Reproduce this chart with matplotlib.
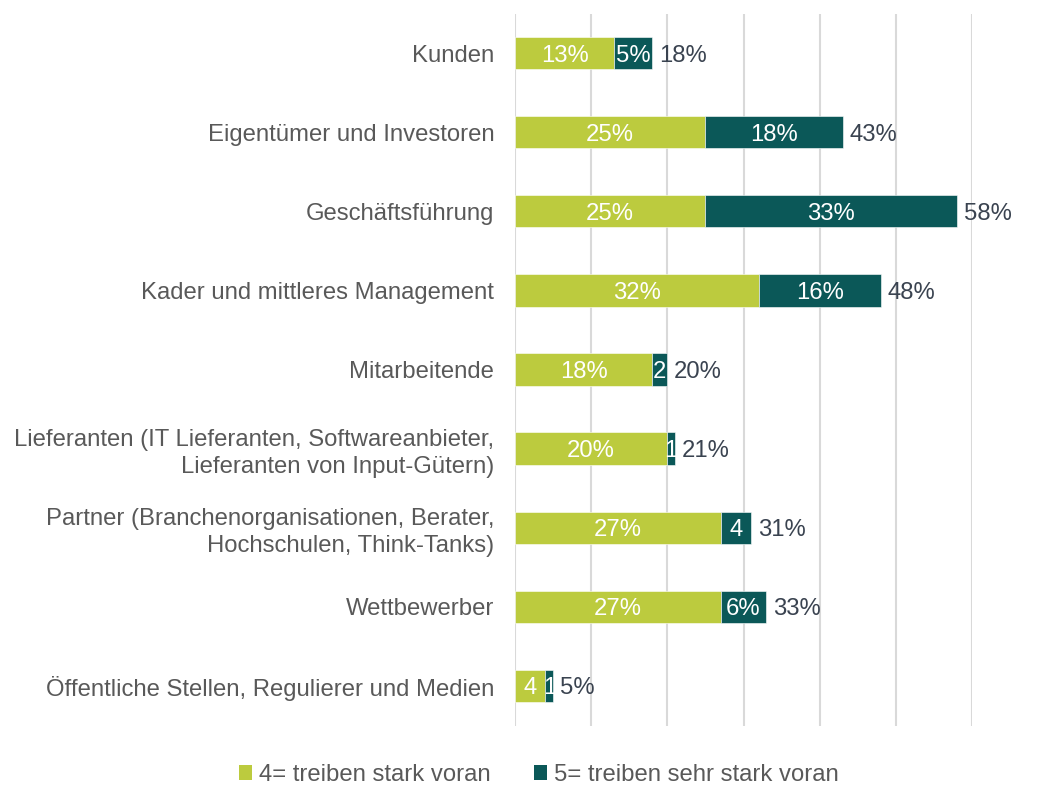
import matplotlib
matplotlib.use("Agg")
import matplotlib.pyplot as plt
from matplotlib.patches import Patch

plt.rcParams['font.family'] = ['Liberation Sans', 'DejaVu Sans']

categories = [
    "Kunden",
    "Eigentümer und Investoren",
    "Geschäftsführung",
    "Kader und mittleres Management",
    "Mitarbeitende",
    "Lieferanten (IT Lieferanten, Softwareanbieter,\nLieferanten von Input-Gütern)",
    "Partner (Branchenorganisationen, Berater,\nHochschulen, Think-Tanks)",
    "Wettbewerber",
    "Öffentliche Stellen, Regulierer und Medien",
]
stark = [13, 25, 25, 32, 18, 20, 27, 27, 4]
sehr_stark = [5, 18, 33, 16, 2, 1, 4, 6, 1]
series_names = ["4= treiben stark voran", "5= treiben sehr stark voran"]

c_light = "#BCCB3E"
c_dark = "#0B5858"
c_cat = "#595959"
c_total = "#3A4350"
fs = 17.2

fig = plt.figure(figsize=(10.38, 7.87), dpi=100)
ax = fig.add_axes([515/1038, 1-725.5/787, (972-515)/1038, (725.5-13.5)/787])

y = list(range(len(categories)))
h = 0.41
ax.barh(y, stark, height=h, color=c_light, edgecolor="white", linewidth=0.4, zorder=3)
ax.barh(y, sehr_stark, left=stark, height=h, color=c_dark, edgecolor="white", linewidth=0.4, zorder=3)

def seg_label(v):
    return f"{v}%" if v >= 5 else f"{v}"

for i, (a, b) in enumerate(zip(stark, sehr_stark)):
    ax.text(a/2, i, seg_label(a), ha="center", va="center_baseline", color="white", fontsize=fs, zorder=4)
    ax.text(a + b/2, i, seg_label(b), ha="center", va="center_baseline", color="white", fontsize=fs, zorder=4)
    ax.text(a + b + 0.9, i, f"{a+b}%", ha="left", va="center_baseline", color=c_total, fontsize=fs, zorder=4)

ax.set_xlim(0, 60)
ax.set_ylim(len(categories) - 0.5, -0.5)
ax.set_xticks(range(0, 61, 10))
ax.xaxis.grid(True, color="#D9D9D9", linewidth=1.5, zorder=0)
ax.set_xticklabels([])
ax.tick_params(axis="x", length=0)
ax.set_yticks(y)
ax.set_yticklabels(categories, fontsize=fs, color=c_cat, linespacing=1.3)
ax.tick_params(axis="y", length=0, pad=15)
for s in ax.spines.values():
    s.set_visible(False)

handles = [Patch(facecolor=c_light, edgecolor="none"), Patch(facecolor=c_dark, edgecolor="none")]
leg = fig.legend(handles, series_names, loc="center", bbox_to_anchor=(539/1038, 1-775/787),
                 ncol=2, frameon=False, fontsize=fs, handlelength=0.55, handleheight=0.55,
                 handletextpad=0.3, columnspacing=1.8)
for t in leg.get_texts():
    t.set_color(c_cat)

fig.savefig("out.png", dpi=100)
